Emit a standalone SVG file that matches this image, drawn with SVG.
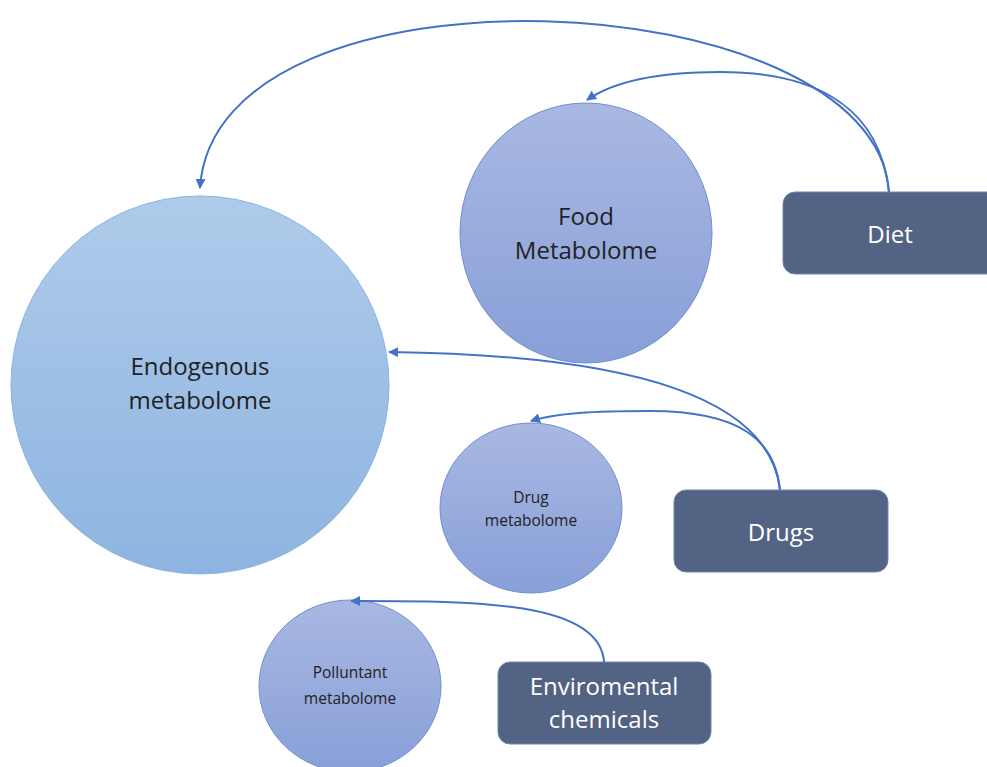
<svg xmlns="http://www.w3.org/2000/svg" width="987" height="767" viewBox="0 0 987 767">
<defs>
<linearGradient id="gEndo" x1="0" y1="0" x2="0" y2="1">
<stop offset="0" stop-color="#afcbea"/><stop offset="1" stop-color="#8db4e1"/>
</linearGradient>
<linearGradient id="gMet" x1="0" y1="0" x2="0" y2="1">
<stop offset="0" stop-color="#a8b8e2"/><stop offset="1" stop-color="#889fd8"/>
</linearGradient>
<marker id="arr" viewBox="0 0 10 10" refX="9" refY="5" markerWidth="5" markerHeight="5" orient="auto" markerUnits="strokeWidth">
<path d="M0,0 L10,5 L0,10 z" fill="#4472c4"/>
</marker>
<style>
.endo{fill:url(#gEndo);stroke:#8db3e2;stroke-width:1}
.met{fill:url(#gMet);stroke:#6f8fd0;stroke-width:1}
.box{fill:#526383;stroke:#6e86b6;stroke-width:1}
.conn{fill:none;stroke:#4472c4;stroke-width:2;marker-end:url(#arr)}
.t{font-family:"Open Sans","Liberation Sans",sans-serif;text-anchor:middle;fill:#222}
.w{fill:#ffffff}
.L{font-size:24px}
.S{font-size:15.5px}
</style>
</defs>
<g id="endogenous"><circle class="endo" cx="200" cy="385" r="189"/><text class="t L" x="200" y="375">Endogenous</text><text class="t L" x="200" y="409">metabolome</text></g>
<g id="food"><ellipse class="met" cx="586" cy="233" rx="126" ry="130"/><text class="t L" x="586" y="225">Food</text><text class="t L" x="586" y="259">Metabolome</text></g>
<g id="drugmet"><ellipse class="met" cx="531" cy="508" rx="91" ry="85"/><text class="t S" x="531" y="503">Drug</text><text class="t S" x="531" y="526">metabolome</text></g>
<g id="pollutant"><ellipse class="met" cx="350" cy="686" rx="91" ry="86"/><text class="t S" x="350" y="678">Polluntant</text><text class="t S" x="350" y="704">metabolome</text></g>
<g id="diet"><rect class="box" x="783" y="192" width="220" height="82" rx="12"/><text class="t L w" x="890" y="243">Diet</text></g>
<g id="drugs"><rect class="box" x="674" y="490" width="214" height="82" rx="12"/><text class="t L w" x="781" y="541">Drugs</text></g>
<g id="env"><rect class="box" x="498" y="662" width="213" height="82" rx="12"/><text class="t L w" x="604" y="695">Enviromental</text><text class="t L w" x="604" y="728">chemicals</text></g>
<g id="connectors">
<path class="conn" d="M889,192 C875,-20 215,-50 200,188"/>
<path class="conn" d="M889,192 C880,110 820,72 720,72 C650,72 610,84 587,100"/>
<path class="conn" d="M780,490 C770,400 640,355 389,352"/>
<path class="conn" d="M780,490 C775,440 740,411 650,411 C595,411 555,413 531,421"/>
<path class="conn" d="M604,662 C600,600 470,601 351,601"/>
</g>
</svg>
